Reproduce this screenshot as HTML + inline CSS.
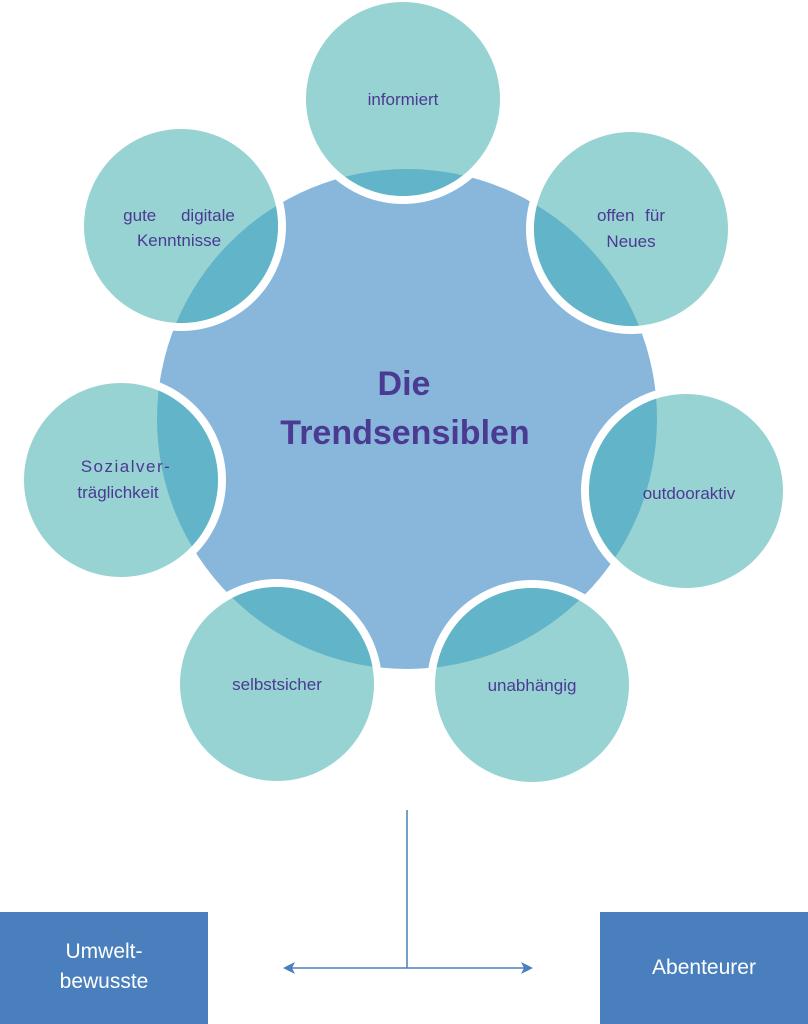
<!DOCTYPE html>
<html><head><meta charset="utf-8"><style>
html,body{margin:0;padding:0;background:#fff;}
svg{display:block;}
text{font-family:"Liberation Sans","DejaVu Sans",sans-serif;}
</style></head><body>
<svg width="808" height="1024" viewBox="0 0 808 1024" xmlns="http://www.w3.org/2000/svg">
<defs>
<clipPath id="big"><circle cx="407" cy="419" r="250"/></clipPath>
</defs>
<circle cx="407" cy="419" r="250" fill="#89b7dc"/>
<g fill="#fff">
<circle cx="403" cy="99" r="105"/>
<circle cx="631" cy="229" r="105"/>
<circle cx="181" cy="226" r="105"/>
<circle cx="121" cy="480" r="105"/>
<circle cx="686" cy="491" r="105"/>
<circle cx="277" cy="684" r="105"/>
<circle cx="532" cy="685" r="105"/>
</g>
<g fill="#98d3d3">
<circle cx="403" cy="99" r="97"/>
<circle cx="631" cy="229" r="97"/>
<circle cx="181" cy="226" r="97"/>
<circle cx="121" cy="480" r="97"/>
<circle cx="686" cy="491" r="97"/>
<circle cx="277" cy="684" r="97"/>
<circle cx="532" cy="685" r="97"/>
</g>
<g fill="#62b4c8" clip-path="url(#big)">
<circle cx="403" cy="99" r="97"/>
<circle cx="631" cy="229" r="97"/>
<circle cx="181" cy="226" r="97"/>
<circle cx="121" cy="480" r="97"/>
<circle cx="686" cy="491" r="97"/>
<circle cx="277" cy="684" r="97"/>
<circle cx="532" cy="685" r="97"/>
</g>
<g fill="#4a3a92" font-size="17" text-anchor="middle">
<text x="403" y="105">informiert</text>
<text x="631" y="221" word-spacing="6">offen für</text>
<text x="631" y="247">Neues</text>
<text x="179" y="221" word-spacing="20">gute digitale</text>
<text x="179" y="246">Kenntnisse</text>
<text x="126" y="472" letter-spacing="1.5">Sozialver-</text>
<text x="118" y="498">träglichkeit</text>
<text x="689" y="499">outdooraktiv</text>
<text x="277" y="690">selbstsicher</text>
<text x="532" y="691">unabhängig</text>
<text x="404" y="395" font-size="34" font-weight="bold">Die</text>
<text x="405" y="444" font-size="34" font-weight="bold">Trendsensiblen</text>
</g>
<g stroke="#4a7fbd" stroke-width="1.5" fill="none">
<line x1="407" y1="810" x2="407" y2="968"/>
<line x1="288" y1="968" x2="527" y2="968"/>
</g>
<polygon points="283,968 295,962 292,968 295,974" fill="#4a7fbd"/>
<polygon points="533,968 521,962 524,968 521,974" fill="#4a7fbd"/>
<rect x="0" y="912" width="208" height="112" fill="#4a7fbd"/>
<rect x="600" y="912" width="208" height="112" fill="#4a7fbd"/>
<g fill="#fff" font-size="21" text-anchor="middle">
<text x="104" y="958">Umwelt-</text>
<text x="104" y="988">bewusste</text>
<text x="704" y="974">Abenteurer</text>
</g>
</svg>
</body></html>
